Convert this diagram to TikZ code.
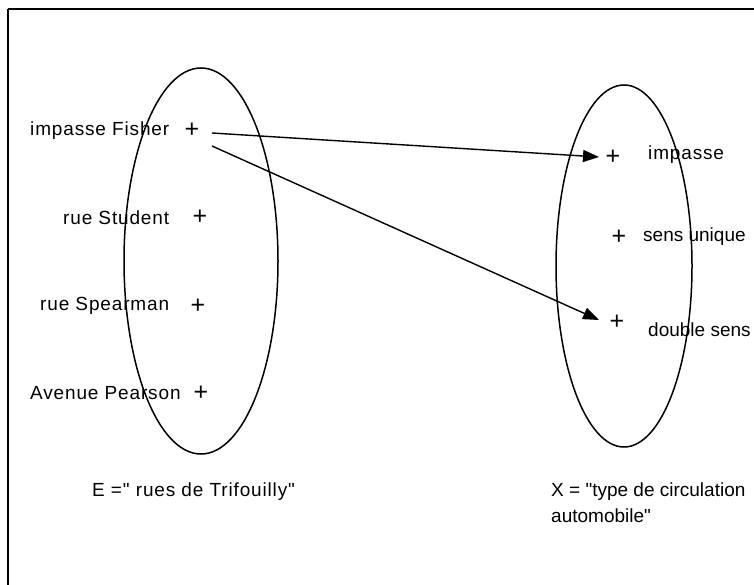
\documentclass[tikz,border=0pt]{standalone}
\usepackage{fontspec}
\setmainfont{Liberation Sans}[Ligatures=TeXOff]
\newfontfamily\lblfont{Liberation Sans}[Ligatures=TeXOff,LetterSpace=4.5]
\usetikzlibrary{arrows.meta}
\begin{document}
\begin{tikzpicture}[x=1pt,y=-1pt,
  lbl/.style={inner sep=0pt,font=\lblfont\fontsize{19}{26}\selectfont},
  lbltight/.style={inner sep=0pt,font=\fontsize{19}{26}\selectfont},
  pl/.style={inner sep=0pt,font=\fontsize{25}{26}\selectfont},
  setline/.style={line width=1.5pt},
  arr/.style={line width=1.4pt,-{Triangle[length=16pt,width=12pt]}}]
\useasboundingbox (0,0) rectangle (754,585);
\fill[white] (0,0) rectangle (754,585);
% frame
\draw[line width=2.2pt] (8,9) -- (760,9);
\draw[line width=1.8pt] (8,9) -- (8,590);
% ellipses
\draw[setline] (201,261) ellipse [x radius=77, y radius=193];
\draw[setline] (624,266) ellipse [x radius=68, y radius=181];
% left labels
\node[lbl,anchor=west] (t1) at (30,131) {impasse Fisher};
\node[pl] (p1) at (192,130) {+};
\node[lbl,anchor=west] (t2) at (63,218) {rue Student};
\node[pl] (p2) at (200,217) {+};
\node[lbl,anchor=west] (t3) at (40,306) {rue Spearman};
\node[pl] (p3) at (198,306) {+};
\node[lbl,anchor=west] (t4) at (30,393) {Avenue Pearson};
\node[pl] (p4) at (201,393) {+};
% right labels
\node[pl] (q1) at (613,157) {+};
\node[lbl,anchor=west] (u1) at (648,155) {impasse};
\node[pl] (q2) at (619,237) {+};
\node[lbltight,anchor=west] (u2) at (643,237) {sens unique};
\node[pl] (q3) at (617,322) {+};
\node[lbltight,anchor=west] (u3) at (648,330) {double sens};
% arrows
\coordinate (s1) at (212,133);
\coordinate (s2) at (212,146);
\coordinate (e1) at (599,157);
\coordinate (e2) at (599,320);
\draw[arr] (s1) -- (e1);
\draw[arr] (s2) -- (e2);
% captions
\node[lbl,anchor=west] (cE) at (92,492) {E =" rues de Trifouilly"};
\node[lbltight,anchor=north west,align=left] (cX) at (551,483) {X = "type de circulation\\automobile"};
\end{tikzpicture}
\end{document}
